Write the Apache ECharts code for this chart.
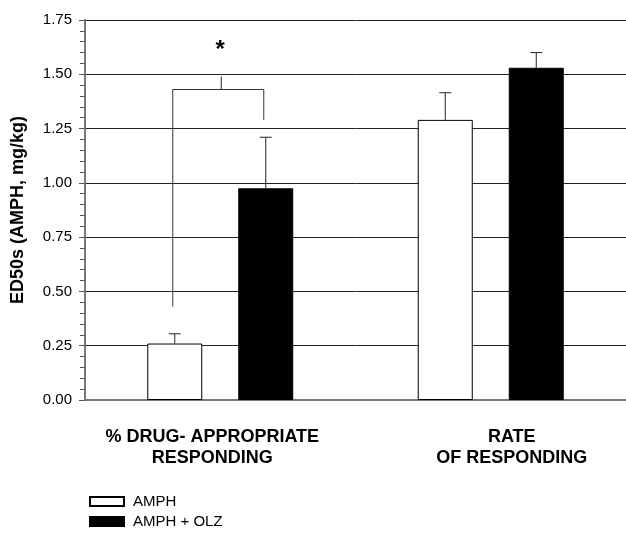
<!DOCTYPE html>
<html>
<head>
<meta charset="utf-8">
<script src="https://cdn.jsdelivr.net/npm/echarts@6/dist/echarts.min.js"></script>
<style>
  html, body { margin: 0; padding: 0; background: #fff; }
  #chart { width: 626px; height: 534px; }
</style>
</head>
<body>
<div id="chart"></div>
<script>
// data
const categories = ['% DRUG- APPROPRIATE\nRESPONDING', 'RATE\nOF RESPONDING'];
const amph = [0.26, 1.29];
const amphErr = [0.305, 1.415];
const amphOlz = [0.975, 1.53];
const amphOlzErr = [1.21, 1.60];
// significance bracket over the first group: [leftBottom, rightBottom, bar, stubTop, star]
const bracket = [0.43, 1.29, 1.43, 1.49, 1.61];

const barWidth = 55;
const gapPx = 36;
const half = (barWidth + gapPx) / 2;

const chart = echarts.init(document.getElementById('chart'));

function errorItem(sign) {
    return function(params, api) {
        const c = api.coord([api.value(0), api.value(1)]);
        const top = api.coord([api.value(0), api.value(2)]);
        const x = c[0] + sign * half;
        return {
            type: 'group',
            children: [
                { type: 'line', shape: { x1: x, y1: c[1], x2: x, y2: top[1] }, style: { stroke: '#222', lineWidth: 1 } },
                { type: 'line', shape: { x1: x - 6, y1: top[1], x2: x + 6, y2: top[1] }, style: { stroke: '#222', lineWidth: 1 } }
            ]
        };
    };
}

const option = {
    animation: false,
    backgroundColor: '#fff',
    textStyle: { fontFamily: 'Liberation Sans, Arial, sans-serif' },
    grid: { left: 85, right: 0, top: 20, bottom: 134, containLabel: false },
    legend: {
        orient: 'vertical',
        left: 89,
        top: 494,
        padding: 0,
        itemWidth: 34,
        itemHeight: 9,
        itemGap: 5,
        icon: 'rect',
        textStyle: { fontSize: 15, color: '#000', padding: [0, 0, 0, 4] },
        data: ['AMPH', 'AMPH + OLZ']
    },
    xAxis: {
        type: 'category',
        data: [
            { value: categories[0], textStyle: { padding: [0, 16, 0, 0] } },
            { value: categories[1], textStyle: { padding: [0, 0, 0, 42] } }
        ],
        axisLine: { show: true, lineStyle: { color: '#777', width: 2 } },
        axisTick: { show: false },
        axisLabel: {
            margin: 27,
            fontSize: 18,
            fontWeight: 'bold',
            color: '#000',
            lineHeight: 21,
            interval: 0
        }
    },
    yAxis: {
        type: 'value',
        min: 0,
        max: 1.75,
        interval: 0.25,
        name: 'ED50s (AMPH, mg/kg)',
        nameLocation: 'middle',
        nameGap: 58,
        nameTextStyle: { fontSize: 18, fontWeight: 'bold', color: '#000' },
        axisLine: { show: true, lineStyle: { color: '#777', width: 2 } },
        axisTick: { show: true, inside: false, length: 6, lineStyle: { color: '#555' } },
        minorTick: { show: true, splitNumber: 5, length: 5, lineStyle: { color: '#555' } },
        axisLabel: {
            margin: 13,
            fontSize: 15,
            color: '#000',
            formatter: v => v.toFixed(2)
        },
        splitLine: { show: true, lineStyle: { color: '#222', width: 1 } }
    },
    series: [
        {
            name: 'AMPH',
            type: 'bar',
            data: amph,
            barWidth: barWidth,
            barGap: (gapPx / barWidth * 100) + '%',
            itemStyle: { color: '#fff', borderColor: '#000', borderWidth: 1 },
            z: 3
        },
        {
            name: 'AMPH + OLZ',
            type: 'bar',
            data: amphOlz,
            barWidth: barWidth,
            itemStyle: { color: '#000', borderColor: '#000', borderWidth: 1 },
            z: 3
        },
        {
            type: 'custom',
            data: amph.map((v, i) => [i, v, amphErr[i]]),
            renderItem: errorItem(-1),
            z: 4,
            silent: true
        },
        {
            type: 'custom',
            data: amphOlz.map((v, i) => [i, v, amphOlzErr[i]]),
            renderItem: errorItem(1),
            z: 4,
            silent: true
        },
        {
            type: 'custom',
            data: [[0].concat(bracket)],
            z: 5,
            silent: true,
            renderItem: function(params, api) {
                const cat = api.value(0);
                const lb = api.coord([cat, api.value(1)]);
                const rb = api.coord([cat, api.value(2)]);
                const bar = api.coord([cat, api.value(3)]);
                const stub = api.coord([cat, api.value(4)]);
                const star = api.coord([cat, api.value(5)]);
                const xl = lb[0] - half - 2;
                const xr = lb[0] + half - 2;
                const xm = lb[0] + 1;
                return {
                    type: 'group',
                    children: [
                        { type: 'polyline', shape: { points: [[xl, lb[1]], [xl, bar[1]], [xr, bar[1]], [xr, rb[1]]] }, style: { stroke: '#333', lineWidth: 1, fill: null } },
                        { type: 'line', shape: { x1: xm, y1: bar[1], x2: xm, y2: stub[1] }, style: { stroke: '#222', lineWidth: 1 } },
                        { type: 'text', x: xm - 1, y: star[1], style: { text: '*', fontSize: 24, fontWeight: 'bold', fill: '#000', align: 'center', verticalAlign: 'middle', fontFamily: 'Liberation Sans, Arial, sans-serif' } }
                    ]
                };
            }
        }
    ]
};

chart.setOption(option);
</script>
</body>
</html>
